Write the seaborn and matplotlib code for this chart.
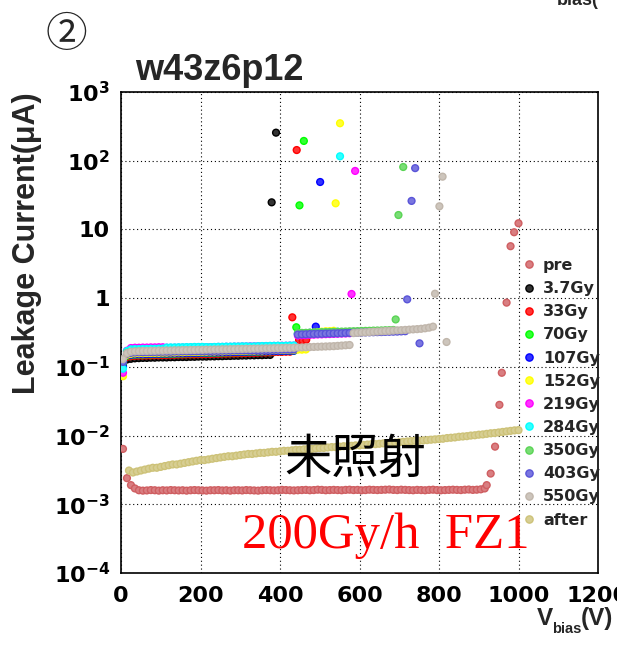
import numpy as np
import pandas as pd
import matplotlib
matplotlib.use("Agg")
import matplotlib.pyplot as plt
from matplotlib.lines import Line2D
from matplotlib.colors import to_rgba
from matplotlib.ticker import MultipleLocator, LogLocator, NullFormatter
import seaborn as sns

# ---------------------------------------------------------------- data
# Leakage current (uA) of sensor w43z6p12 vs bias voltage (V).
# Regular sweeps start at 5 V and step by 10 V; isolated points
# (breakdown / current jumps) are given with their own voltages.

runs = ["pre", "3.7Gy", "33Gy", "70Gy", "107Gy", "152Gy", "219Gy",
        "284Gy", "350Gy", "403Gy", "550Gy", "after"]

colors = ["#cf5e61", "#000000", "#ff0000", "#00ff00", "#0000ff", "#ffff00",
          "#ff00ff", "#00ffff", "#59d454", "#5954d8", "#c0b6ab", "#cdc278"]

# before irradiation, values in nA
pre_sweep_nA = [6.4, 2.4, 1.9, 1.7,
                1.60, 1.58, 1.59, 1.61, 1.60, 1.58, 1.60, 1.59, 1.61, 1.60,
                1.59, 1.60, 1.58, 1.60, 1.61, 1.60, 1.59, 1.58, 1.60, 1.60,
                1.61, 1.59, 1.60, 1.58, 1.60, 1.60, 1.59, 1.61, 1.60, 1.59,
                1.58, 1.60, 1.61, 1.60, 1.59, 1.60, 1.62, 1.61, 1.60, 1.59,
                1.60, 1.61, 1.62, 1.60, 1.61, 1.63, 1.62, 1.60, 1.61, 1.62,
                1.61, 1.60, 1.62, 1.63, 1.61, 1.62, 1.60, 1.61, 1.63, 1.62,
                1.61, 1.62, 1.63, 1.64, 1.62, 1.61, 1.63, 1.62, 1.61, 1.60,
                1.62, 1.61, 1.60, 1.62, 1.63, 1.61, 1.60, 1.61, 1.62, 1.63,
                1.62, 1.61, 1.63, 1.64, 1.62, 1.63, 1.65,
                1.7]
pre_rise_V = [920, 930, 941, 952, 958, 970, 980, 989, 1000]
pre_rise_nA = [1.9, 2.8, 6.9, 28, 82, 860, 5700, 9100, 12300]

# after annealing, values in nA, sweep from 20 V
after_start_V = 20
after_nA = [3.1, 2.9, 3.0, 3.1, 3.2, 3.3, 3.4, 3.4, 3.5, 3.6,
            3.7, 3.8, 3.8, 3.9, 4.0, 4.1, 4.2, 4.3, 4.4, 4.4,
            4.5, 4.6, 4.7, 4.8, 4.9, 5.0, 5.0, 5.1, 5.2, 5.3,
            5.4, 5.4, 5.5, 5.6, 5.6, 5.7, 5.8, 5.8, 5.9, 6.0,
            6.0, 6.1, 6.2, 6.2, 6.3, 6.4, 6.4, 6.5, 6.6, 6.6,
            6.7, 6.8, 6.8, 6.9, 7.0, 7.0, 7.1, 7.2, 7.2, 7.3,
            7.4, 7.5, 7.5, 7.6, 7.7, 7.8, 7.8, 7.9, 8.0, 8.1,
            8.2, 8.3, 8.4, 8.4, 8.5, 8.6, 8.7, 8.8, 8.9, 9.0,
            9.2, 9.3, 9.4, 9.6, 9.7, 9.8, 10.0, 10.1, 10.3, 10.4,
            10.6, 10.8, 10.9, 11.1, 11.3, 11.5, 11.7, 11.9, 12.0]

# irradiation steps, values in uA
i_3p7 = [0.115, 0.128, 0.131, 0.133, 0.134, 0.135, 0.135, 0.136, 0.136, 0.137,
         0.137, 0.137, 0.138, 0.138, 0.139, 0.139, 0.139, 0.140, 0.140, 0.141,
         0.141, 0.141, 0.142, 0.142, 0.143, 0.143, 0.144, 0.144, 0.145, 0.145,
         0.146, 0.146, 0.147, 0.147, 0.148, 0.148, 0.149, 0.149]
bd_3p7_V = [379, 390]
bd_3p7_I = [24.8, 256]

i_33 = [0.110, 0.140, 0.143, 0.145, 0.146, 0.146, 0.147, 0.147, 0.148, 0.148,
        0.149, 0.149, 0.150, 0.150, 0.151, 0.151, 0.152, 0.152, 0.152, 0.153,
        0.153, 0.154, 0.154, 0.155, 0.155, 0.156, 0.156, 0.157, 0.157, 0.158,
        0.158, 0.159, 0.160, 0.160, 0.161, 0.162, 0.162, 0.163, 0.164, 0.165,
        0.165, 0.166, 0.166]
bd_33_V = [431, 442, 448, 457, 466]
bd_33_I = [0.526, 143, 0.245, 0.243, 0.248]

i_70 = [0.105, 0.145, 0.148, 0.150, 0.151, 0.151, 0.152, 0.152, 0.153, 0.153,
        0.154, 0.154, 0.155, 0.155, 0.156, 0.156, 0.157, 0.157, 0.158, 0.158,
        0.159, 0.159, 0.160, 0.160, 0.161, 0.161, 0.162, 0.162, 0.163, 0.163,
        0.164, 0.164, 0.165, 0.166, 0.166, 0.167, 0.168, 0.168, 0.169, 0.170,
        0.170, 0.171, 0.172, 0.172]
bd_70_V = [441, 449, 460]
bd_70_I = [0.377, 22.4, 194]

i_107 = [0.100, 0.148, 0.150, 0.152, 0.153, 0.153, 0.154, 0.154, 0.155, 0.155,
         0.156, 0.156, 0.157, 0.157, 0.158, 0.158, 0.159, 0.159, 0.160, 0.160,
         0.161, 0.161, 0.162, 0.162, 0.163, 0.163, 0.164, 0.164, 0.165, 0.165,
         0.166, 0.166, 0.167, 0.167, 0.168, 0.168, 0.169, 0.169, 0.170, 0.170,
         0.171, 0.171, 0.172, 0.172, 0.300, 0.305, 0.308, 0.312, 0.315]
bd_107_V = [490, 501]
bd_107_I = [0.385, 49]

i_152 = [0.073, 0.150, 0.155, 0.157, 0.158, 0.158, 0.159, 0.159, 0.160, 0.160,
         0.161, 0.161, 0.162, 0.162, 0.163, 0.163, 0.164, 0.164, 0.165, 0.165,
         0.166, 0.166, 0.167, 0.167, 0.168, 0.168, 0.169, 0.169, 0.170, 0.170,
         0.171, 0.171, 0.172, 0.172, 0.173, 0.173, 0.174, 0.174, 0.175, 0.175,
         0.176, 0.176, 0.177, 0.177, 0.178, 0.178, 0.179,
         0.310, 0.315, 0.320, 0.325, 0.330, 0.330, 0.335]
bd_152_V = [540, 551]
bd_152_I = [24, 351]

i_219 = [0.082,
         0.172, 0.188, 0.190, 0.190, 0.191, 0.191, 0.192, 0.192, 0.193, 0.193,
         0.190, 0.189, 0.190, 0.190, 0.191, 0.191, 0.191, 0.192, 0.192, 0.193,
         0.193, 0.194, 0.194, 0.195, 0.195, 0.196, 0.196, 0.197, 0.197, 0.198,
         0.198, 0.199, 0.199, 0.200, 0.200, 0.201, 0.201, 0.202, 0.202, 0.203,
         0.203, 0.204, 0.204,
         0.285, 0.288, 0.290, 0.292, 0.294, 0.296, 0.297, 0.299, 0.300, 0.302,
         0.303, 0.305, 0.306, 0.308]
bd_219_V = [580, 589]
bd_219_I = [1.15, 71]

i_284 = [0.094,
         0.170, 0.180, 0.181, 0.181, 0.182, 0.182, 0.183, 0.183, 0.184, 0.184,
         0.191, 0.192, 0.192, 0.193, 0.193, 0.194, 0.194, 0.195, 0.195, 0.195,
         0.194, 0.194, 0.195, 0.196, 0.196, 0.197, 0.197, 0.198, 0.198, 0.199,
         0.199, 0.198, 0.199, 0.200, 0.201, 0.201, 0.202, 0.202, 0.203, 0.202,
         0.203, 0.204, 0.205,
         0.305, 0.307, 0.309, 0.311, 0.313, 0.315, 0.316, 0.318, 0.320, 0.322,
         0.324]
bd_284_V = [551]
bd_284_I = [116]

i_350 = [0.120,
         0.160, 0.165, 0.167, 0.168, 0.168, 0.169, 0.169, 0.170, 0.170, 0.171,
         0.171, 0.171, 0.172, 0.172, 0.173, 0.173, 0.173, 0.174, 0.174, 0.175,
         0.175, 0.175, 0.176, 0.176, 0.177, 0.177, 0.177, 0.178, 0.178, 0.179,
         0.179, 0.179, 0.180, 0.180, 0.181, 0.181, 0.181, 0.182, 0.182, 0.183,
         0.183, 0.183, 0.184,
         0.310, 0.312, 0.313, 0.315, 0.316, 0.318, 0.319, 0.320, 0.322, 0.323,
         0.325, 0.326, 0.327, 0.329, 0.330, 0.331, 0.333, 0.334, 0.335, 0.337,
         0.338, 0.339, 0.341, 0.342, 0.344]
bd_350_V = [691, 698, 710]
bd_350_I = [0.49, 16.2, 81]

i_403 = [0.118,
         0.155, 0.160, 0.162, 0.163, 0.163, 0.164, 0.164, 0.165, 0.165, 0.166,
         0.166, 0.166, 0.167, 0.167, 0.168, 0.168, 0.168, 0.169, 0.169, 0.170,
         0.170, 0.170, 0.171, 0.171, 0.172, 0.172, 0.172, 0.173, 0.173, 0.174,
         0.174, 0.174, 0.175, 0.175, 0.176, 0.176, 0.176, 0.177, 0.177, 0.178,
         0.178, 0.178, 0.179,
         0.295, 0.297, 0.298, 0.300, 0.301, 0.302, 0.303, 0.305, 0.306, 0.307,
         0.308, 0.309, 0.311, 0.312, 0.313, 0.314, 0.315, 0.317, 0.318, 0.319,
         0.320, 0.321, 0.323, 0.324, 0.325, 0.326, 0.328, 0.330]
bd_403_V = [720, 731, 740, 751]
bd_403_I = [0.96, 26, 78, 0.22]

i_550 = [0.130, 0.158, 0.166,
         0.168, 0.169, 0.170, 0.170, 0.171, 0.171, 0.172, 0.172, 0.173, 0.173,
         0.174, 0.174, 0.175, 0.175, 0.176, 0.176, 0.177, 0.177, 0.178, 0.178,
         0.179, 0.179, 0.180, 0.180, 0.181, 0.181, 0.182, 0.182, 0.183, 0.183,
         0.184, 0.184, 0.185, 0.186, 0.186, 0.187, 0.187, 0.188, 0.189, 0.189,
         0.190, 0.191, 0.192, 0.193, 0.194, 0.195, 0.196, 0.197, 0.198, 0.199,
         0.200, 0.202, 0.204, 0.206, 0.208,
         0.310, 0.313, 0.316, 0.318, 0.321, 0.324, 0.326, 0.329, 0.332, 0.334,
         0.337, 0.340, 0.342, 0.345, 0.348, 0.351, 0.354, 0.358, 0.364, 0.372,
         0.385]
bd_550_V = [790, 801, 809, 819]
bd_550_I = [1.16, 21.7, 58.6, 0.23]

SWEEP_START_V = 5
SWEEP_STEP_V = 10


def sweep_frame(label, currents, start=SWEEP_START_V):
    volts = start + SWEEP_STEP_V * np.arange(len(currents))
    return pd.DataFrame({"V": volts, "I": currents, "run": label})


def point_frame(label, volts, currents):
    return pd.DataFrame({"V": volts, "I": currents, "run": label})


frames = [
    sweep_frame("pre", np.array(pre_sweep_nA) * 1e-3),
    point_frame("pre", pre_rise_V, np.array(pre_rise_nA) * 1e-3),
    sweep_frame("3.7Gy", i_3p7), point_frame("3.7Gy", bd_3p7_V, bd_3p7_I),
    sweep_frame("33Gy", i_33), point_frame("33Gy", bd_33_V, bd_33_I),
    sweep_frame("70Gy", i_70), point_frame("70Gy", bd_70_V, bd_70_I),
    sweep_frame("107Gy", i_107), point_frame("107Gy", bd_107_V, bd_107_I),
    sweep_frame("152Gy", i_152), point_frame("152Gy", bd_152_V, bd_152_I),
    sweep_frame("219Gy", i_219), point_frame("219Gy", bd_219_V, bd_219_I),
    sweep_frame("284Gy", i_284), point_frame("284Gy", bd_284_V, bd_284_I),
    sweep_frame("350Gy", i_350), point_frame("350Gy", bd_350_V, bd_350_I),
    sweep_frame("403Gy", i_403), point_frame("403Gy", bd_403_V, bd_403_I),
    sweep_frame("550Gy", i_550), point_frame("550Gy", bd_550_V, bd_550_I),
    sweep_frame("after", np.array(after_nA) * 1e-3, start=after_start_V),
]
df = pd.concat(frames, ignore_index=True)

x_ticks = [0, 200, 400, 600, 800, 1000, 1200]
x_ticklabels = ["0", "200", "400", "600", "800", "1000", "1200"]
y_ticks = [1e-4, 1e-3, 1e-2, 1e-1, 1, 10, 1e2, 1e3]
y_ticklabels = [r"$10^{-4}$", r"$10^{-3}$", r"$10^{-2}$", r"$10^{-1}$",
                "1", "10", r"$10^{2}$", r"$10^{3}$"]

# ---------------------------------------------------------------- style
sns.set_style("white")
plt.rcParams["font.family"] = ["DejaVu Sans"]
plt.rcParams["font.weight"] = "bold"
plt.rcParams["mathtext.fontset"] = "custom"
plt.rcParams["mathtext.rm"] = "DejaVu Sans:bold"
plt.rcParams["mathtext.it"] = "DejaVu Sans:bold"
plt.rcParams["mathtext.bf"] = "DejaVu Sans:bold"
plt.rcParams["mathtext.default"] = "rm"

W, H = 617, 652
fig = plt.figure(figsize=(W / 100, H / 100), dpi=100)
ax = fig.add_axes([121 / W, 79 / H, 477 / W, 481 / H])

palette = dict(zip(runs, colors))
sns.scatterplot(data=df, x="V", y="I", hue="run", hue_order=runs,
                palette=palette, s=24, linewidth=0, legend=False,
                ax=ax, zorder=3)


def ring_style(rgba):
    """Marker face a little lighter than its rim."""
    rgba = np.asarray(rgba, dtype=float)
    face = rgba.copy()
    face[:, :3] = rgba[:, :3] + (1.0 - rgba[:, :3]) * 0.2
    return face


pts = ax.collections[0]
rim = pts.get_facecolors()
pts.set_edgecolors(rim)
pts.set_facecolors(ring_style(rim))
pts.set_linewidths(1.0)

ax.set_yscale("log")
ax.set_xlim(0, 1200)
ax.set_ylim(1e-4, 1e3)
ax.set_xlabel("")
ax.set_ylabel("")

ax.set_xticks(x_ticks)
ax.set_xticklabels(x_ticklabels, fontsize=16, fontweight="bold")
ax.xaxis.set_minor_locator(MultipleLocator(50))
ax.set_yticks(y_ticks)
ax.set_yticklabels(y_ticklabels, fontsize=16, fontweight="bold")
ax.yaxis.set_minor_locator(LogLocator(base=10, subs=np.arange(2, 10), numticks=30))
ax.yaxis.set_minor_formatter(NullFormatter())

ax.tick_params(which="both", direction="in", top=False, right=False,
               colors="black")
ax.tick_params(which="major", length=6, width=1.0)
ax.tick_params(which="minor", length=3, width=0.8)
ax.tick_params(axis="x", which="major", pad=9)
ax.tick_params(axis="y", which="major", pad=8)

for sp in ax.spines.values():
    sp.set_color("black")
    sp.set_linewidth(1.2)

ax.set_axisbelow(True)
ax.grid(which="major", color="black", linestyle=(0, (1, 2.5)), linewidth=0.8)
ax.grid(which="minor", visible=False)

# legend
handles = []
for c in colors:
    rgba = np.array([to_rgba(c)])
    handles.append(Line2D([], [], marker="o", linestyle="", markersize=5.2,
                          markerfacecolor=ring_style(rgba)[0],
                          markeredgecolor=c, markeredgewidth=1.0))
ax.legend(handles, runs, loc="upper left",
          bbox_to_anchor=(523 / W, 1 - 258 / H), bbox_transform=fig.transFigure,
          frameon=False, borderpad=0, borderaxespad=0, handlelength=0.8,
          handletextpad=0.45, labelspacing=0.51,
          prop={"family": "DejaVu Sans", "weight": "bold", "size": 11.5})

# annotations inside the frame
ax.text(0.4906, 0.2349, "未照射", transform=ax.transAxes, ha="center",
        va="center", fontsize=34, fontweight="normal",
        family=["Noto Sans CJK JP", "DejaVu Sans"], color="black", zorder=5)
ax.text(0.2537, 0.052, "200Gy/h  FZ1", transform=ax.transAxes, ha="left",
        va="baseline", fontsize=36.5, fontweight="normal",
        family=["Liberation Serif"], color="#ff0000", zorder=5)

# titles
fig.text(66 / W, 1 - 35 / H, "②", ha="center", va="center", fontsize=30,
         fontweight="normal", family=["Noto Sans CJK JP", "DejaVu Sans"])
fig.text(135 / W, 1 - 80 / H, "w43z6p12", ha="left", va="baseline",
         fontsize=26, fontweight="bold", family=["Liberation Sans"])
fig.text(27 / W, 1 - 92 / H, "Leakage Current(μA)", rotation=90,
         ha="center", va="top", fontsize=22, fontweight="bold",
         family=["Liberation Sans"])
fig.text(557 / W, 1 - 5 / H, "bias(", ha="left", va="baseline", fontsize=13,
         fontweight="bold", family=["Liberation Sans"])

# x-axis title "V_bias(V)", assembled right to left from three pieces
renderer = fig.canvas.get_renderer()
base_y = 1 - 625 / H
t_unit = fig.text(613 / W, base_y, "(V)", ha="right", va="baseline",
                  fontsize=17.5, fontweight="bold", family=["Liberation Sans"])
x_left = t_unit.get_window_extent(renderer).x0 + 1
t_sub = fig.text(x_left / W, base_y - 8 / H, "bias", ha="right",
                 va="baseline", fontsize=10.5, fontweight="bold",
                 family=["Liberation Sans"])
x_left = t_sub.get_window_extent(renderer).x0 + 1
fig.text(x_left / W, base_y, "V", ha="right", va="baseline",
         fontsize=17.5, fontweight="bold", family=["Liberation Sans"])

fig.savefig("out.png", dpi=100)
